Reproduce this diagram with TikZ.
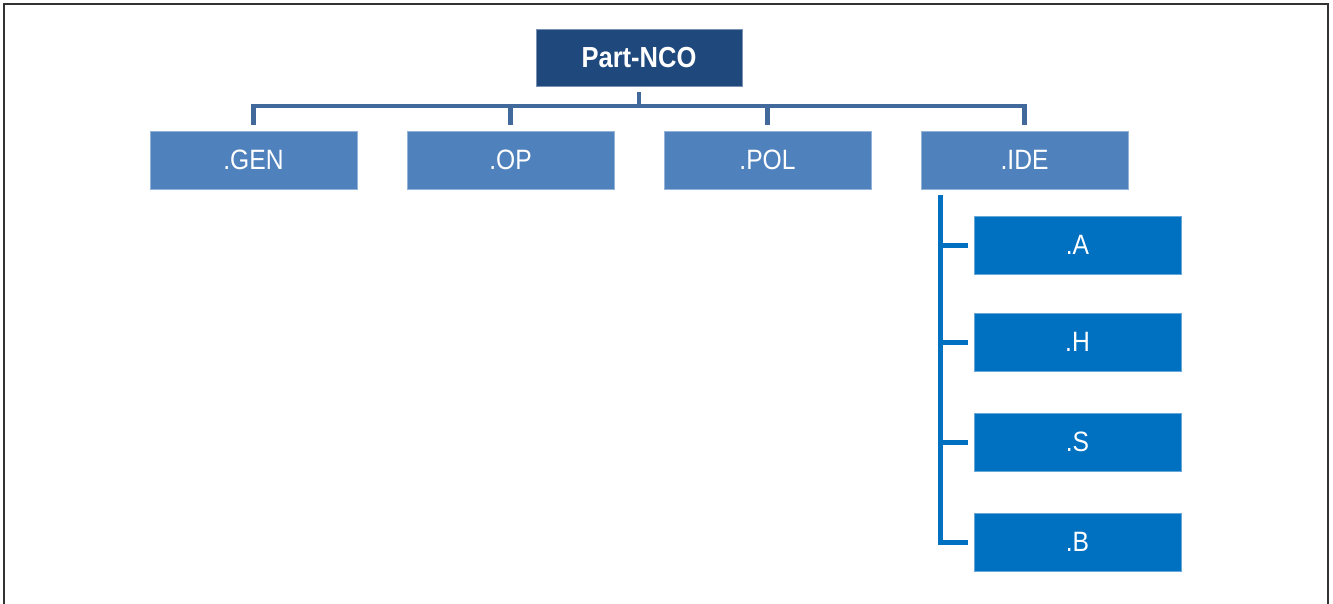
\documentclass[tikz,border=0pt]{standalone}
\usepackage{fontspec}
\setmainfont{Liberation Sans}
\newfontfamily\narrowfont[FakeStretch=0.88]{Liberation Sans}
\definecolor{topblue}{RGB}{31,73,125}
\definecolor{midblue}{RGB}{79,129,189}
\definecolor{lowblue}{RGB}{0,112,192}
\definecolor{linkblue}{RGB}{65,105,155}
\begin{document}
\begin{tikzpicture}[x=1pt,y=-1pt,
  box/.style={rectangle, minimum width=207pt, minimum height=58pt, inner sep=0pt, text=white,
    font=\narrowfont\fontsize{28}{32}\selectfont},
  topbox/.style={box, fill=topblue, draw=topblue!60!white, line width=0.6pt, minimum width=206pt, minimum height=57pt,
    font=\narrowfont\fontsize{29}{33}\selectfont\bfseries},
  midbox/.style={box, fill=midblue, draw=midblue!60!white, line width=0.6pt},
  lowbox/.style={box, fill=lowblue, draw=lowblue!60!white, line width=0.6pt},
  conn/.style={draw=linkblue, line width=4.5pt},
  conn2/.style={draw=lowblue, line width=5pt}]
\useasboundingbox (0,0) rectangle (1333,603);
\draw[line width=2pt, black!80] (4,610) -- (4,4) -- (1328,4) -- (1328,610);

\node[topbox] (top) at (639,57.5) {Part-NCO};
\node[midbox] (gen) at (253.5,160) {.GEN};
\node[midbox] (op)  at (510.5,160) {.OP};
\node[midbox] (pol) at (767.5,160) {.POL};
\node[midbox] (ide) at (1024.5,160) {.IDE};
\node[lowbox] (a) at (1077.5,245) {.A};
\node[lowbox] (h) at (1077.5,342) {.H};
\node[lowbox] (s) at (1077.5,442) {.S};
\node[lowbox] (b) at (1077.5,542) {.B};

\coordinate (bus) at (639,106);
\draw[conn] ([yshift=-6pt]top.south) -- (bus);
\draw[conn] ([yshift=6pt]gen.north) |- (bus) -| ([yshift=6pt]ide.north);
\draw[conn] (op.north |- bus) -- ([yshift=6pt]op.north);
\draw[conn] (pol.north |- bus) -- ([yshift=6pt]pol.north);

\coordinate (spine) at (940,195);
\draw[conn2] (spine) |- ([xshift=-6pt]b.west);
\draw[conn2] (spine |- a) -- ([xshift=-6pt]a.west);
\draw[conn2] (spine |- h) -- ([xshift=-6pt]h.west);
\draw[conn2] (spine |- s) -- ([xshift=-6pt]s.west);
\end{tikzpicture}
\end{document}
